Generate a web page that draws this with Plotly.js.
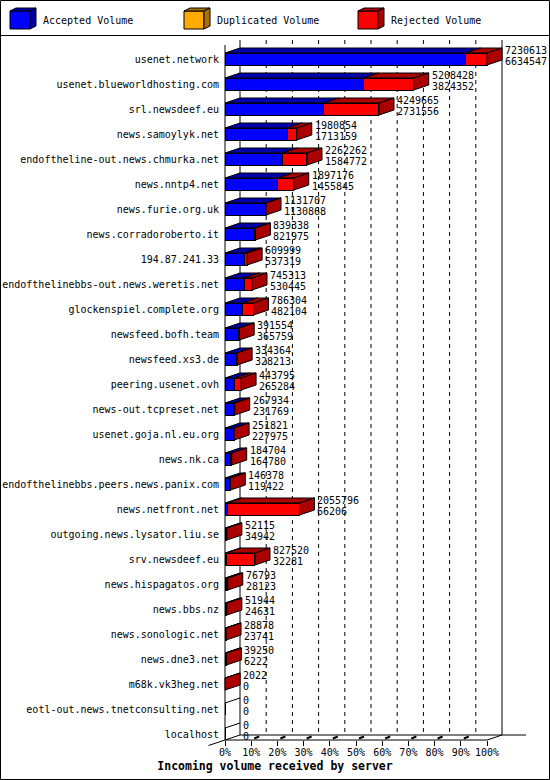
<!DOCTYPE html>
<html>
<head>
<meta charset="utf-8">
<script src="https://cdn.plot.ly/plotly-3.0.1.min.js"></script>
<style>
  html, body { margin: 0; padding: 0; background: #fff; }
  #chart { width: 550px; height: 780px; }
</style>
</head>
<body>
<div id="chart"></div>
<script>
/* global Plotly */

// one row per feeding server, in the order of the report
const servers = [
  'usenet.network',
  'usenet.blueworldhosting.com',
  'srl.newsdeef.eu',
  'news.samoylyk.net',
  'endoftheline-out.news.chmurka.net',
  'news.nntp4.net',
  'news.furie.org.uk',
  'news.corradoroberto.it',
  '194.87.241.33',
  'endofthelinebbs-out.news.weretis.net',
  'glockenspiel.complete.org',
  'newsfeed.bofh.team',
  'newsfeed.xs3.de',
  'peering.usenet.ovh',
  'news-out.tcpreset.net',
  'usenet.goja.nl.eu.org',
  'news.nk.ca',
  'endofthelinebbs.peers.news.panix.com',
  'news.netfront.net',
  'outgoing.news.lysator.liu.se',
  'srv.newsdeef.eu',
  'news.hispagatos.org',
  'news.bbs.nz',
  'news.sonologic.net',
  'news.dne3.net',
  'm68k.vk3heg.net',
  'eotl-out.news.tnetconsulting.net',
  'localhost',
];

// upper number next to each bar
const totalVolume = [
  7230613, 5208428, 4249665, 1980854, 2262262, 1897176, 1131707,
  839338, 609999, 745313, 786304, 391554, 334364, 443795,
  267934, 251821, 184704, 146378, 2055796, 52115, 827520,
  76793, 51944, 28878, 39250, 2022, 0, 0,
];

// lower number next to each bar
const acceptedVolume = [
  6634547, 3824352, 2731556, 1713159, 1584772, 1455845, 1130868,
  821975, 537319, 530445, 482104, 365759, 328213, 265284,
  231769, 227975, 164780, 119422, 66206, 34942, 32281,
  28123, 24631, 23741, 6222, 0, 0, 0,
];

const duplicatedVolume = [
  0, 0, 0, 0, 0, 0, 0,
  0, 0, 0, 0, 0, 0, 0,
  0, 0, 0, 0, 0, 0, 0,
  0, 0, 0, 0, 0, 0, 0,
];

const seriesNames = ['Accepted Volume', 'Duplicated Volume', 'Rejected Volume'];
const seriesColors = ['#0000ff', '#ffaa00', '#ff0000'];
const shadeColors = ['#0000aa', '#aa7100', '#aa0000'];
const xTickValues = [0, 10, 20, 30, 40, 50, 60, 70, 80, 90, 100];
const xTickLabels = ['0%', '10%', '20%', '30%', '40%', '50%', '60%', '70%', '80%', '90%', '100%'];
const xTitle = 'Incoming volume received by server';

const FONT = 'DejaVu Sans Mono, Liberation Mono, monospace';

// page geometry
const WIDTH = 550;
const HEIGHT = 780;
const margin = { l: 220, r: 24, t: 35, b: 40 };
const plotW = WIDTH - margin.l - margin.r;
const plotH = HEIGHT - margin.t - margin.b;
const PX_PER_PCT = 2.62;
const PX_PER_ROW = 25;
const ZERO_PX = 225;
const FIRST_ROW_PX = 59;

const xRange = [-(ZERO_PX - margin.l) / PX_PER_PCT, 0];
xRange[1] = xRange[0] + plotW / PX_PER_PCT;
const yTop = -(FIRST_ROW_PX - margin.t) / PX_PER_ROW;
const yRange = [yTop + plotH / PX_PER_ROW, yTop];

// fake 3d: depth of the bars
const depthX = 15 / PX_PER_PCT;
const depthY = -5 / PX_PER_ROW;
const half = 6 / PX_PER_ROW;
const floorFront = yRange[0];
const floorBack = floorFront + depthY;
const wallTop = yTop + 0.2;

const paperX = (px) => (px - margin.l) / plotW;
const paperY = (py) => (HEIGHT - margin.b - py) / plotH;
const dataPaperX = (x) => (x - xRange[0]) / (xRange[1] - xRange[0]);
const dataPaperY = (y) => (yRange[0] - y) / (yRange[0] - yRange[1]);

const maxTotal = Math.max(...totalVolume);
const pct = (v) => (v / maxTotal) * 100;
const rejectedVolume = totalVolume.map((t, i) => t - acceptedVolume[i] - duplicatedVolume[i]);
const series = [acceptedVolume, duplicatedVolume, rejectedVolume];
const rows = servers.map((s, i) => i);

const traces = series.map((values, s) => ({
  type: 'bar',
  orientation: 'h',
  name: seriesNames[s],
  y: rows,
  x: values.map(pct),
  width: 0.48,
  marker: { color: seriesColors[s], line: { color: '#000', width: 1 } },
  hoverinfo: 'skip',
}));

const shapes = [];
const annotations = [];

// back wall: dashed grid and its edges
xTickValues.forEach((v) => {
  if (v === 0) return;
  shapes.push({
    type: 'line', xref: 'x', yref: 'y', layer: 'below',
    x0: v + depthX, x1: v + depthX, y0: wallTop, y1: floorBack,
    line: { color: '#000', width: 1, dash: v === 100 ? 'solid' : '4px,4px' },
  });
});
shapes.push({
  type: 'line', xref: 'x', yref: 'y', layer: 'below',
  x0: depthX, x1: depthX, y0: wallTop, y1: floorBack,
  line: { color: '#000', width: 1 },
});
shapes.push({
  type: 'line', xref: 'x', yref: 'y', layer: 'below',
  x0: 0, x1: 0, y0: wallTop - depthY, y1: floorFront,
  line: { color: '#000', width: 1 },
});

// floor
shapes.push({
  type: 'line', xref: 'paper', yref: 'paper',
  x0: dataPaperX(depthX), x1: 1, y0: dataPaperY(floorBack), y1: dataPaperY(floorBack),
  line: { color: '#000', width: 1 },
});
shapes.push({
  type: 'line', xref: 'paper', yref: 'paper',
  x0: dataPaperX(0), x1: dataPaperX(100), y0: 0, y1: 0,
  line: { color: '#000', width: 1 },
});
shapes.push({
  type: 'line', xref: 'paper', yref: 'paper',
  x0: dataPaperX(100), x1: dataPaperX(100 + depthX), y0: 0, y1: dataPaperY(floorBack),
  line: { color: '#000', width: 1 },
});
shapes.push({
  type: 'line', xref: 'paper', yref: 'paper',
  x0: dataPaperX(-1.1 * depthX), x1: dataPaperX(depthX),
  y0: dataPaperY(floorFront - 1.1 * depthY), y1: dataPaperY(floorBack),
  line: { color: '#000', width: 1 },
});
xTickValues.forEach((v) => {
  if (v === 0 || v === 100) return;
  const px = ZERO_PX + v * PX_PER_PCT;
  shapes.push({
    type: 'line', xref: 'paper', yref: 'paper',
    x0: paperX(px + 3), x1: paperX(px + 8), y0: paperY(738.5), y1: paperY(736.5),
    line: { color: '#000', width: 2 },
  });
});

// top and side faces of the bars, plus the value labels
const path = (pts) => `M${pts.map((p) => `${p[0]},${p[1]}`).join(' L')} Z`;

rows.forEach((i) => {
  const top = i - half;
  const bottom = i + half;
  let start = 0;
  let lastS = -1;
  series.forEach((values, s) => {
    const w = pct(values[i]);
    if (w > 0) {
      shapes.push({
        type: 'path', xref: 'x', yref: 'y',
        path: path([[start, top], [start + w, top], [start + w + depthX, top + depthY], [start + depthX, top + depthY]]),
        fillcolor: shadeColors[s], line: { color: '#000', width: 1 },
      });
      lastS = s;
    }
    start += w;
  });
  if (lastS >= 0) {
    shapes.push({
      type: 'path', xref: 'x', yref: 'y',
      path: path([[start, top], [start + depthX, top + depthY], [start + depthX, bottom + depthY], [start, bottom]]),
      fillcolor: shadeColors[lastS], line: { color: '#000', width: 1 },
    });
  } else {
    shapes.push({
      type: 'line', xref: 'x', yref: 'y',
      x0: 0, y0: top, x1: depthX, y1: top + depthY,
      line: { color: '#000', width: 1 },
    });
  }
  [[totalVolume[i], -0.33], [acceptedVolume[i], 0.11]].forEach(([val, dy]) => {
    annotations.push({
      xref: 'x', yref: 'y', x: start + depthX, y: i + dy,
      xanchor: 'left', yanchor: 'middle', xshift: 1,
      text: String(val), showarrow: false,
      font: { family: FONT, size: 10, color: '#000' },
    });
  });
});

// legend strip with little cubes
seriesNames.forEach((name, s) => {
  const x0 = 10 + 174 * s;
  const cube = (pts) => path(pts.map(([x, y]) => [paperX(x), paperY(y)]));
  shapes.push({
    type: 'path', xref: 'paper', yref: 'paper',
    path: cube([[x0, 11], [x0 + 20, 11], [x0 + 20, 29], [x0, 29]]),
    fillcolor: seriesColors[s], line: { color: '#000', width: 1 },
  });
  shapes.push({
    type: 'path', xref: 'paper', yref: 'paper',
    path: cube([[x0, 11], [x0 + 6, 8], [x0 + 26, 8], [x0 + 20, 11]]),
    fillcolor: shadeColors[s], line: { color: '#000', width: 1 },
  });
  shapes.push({
    type: 'path', xref: 'paper', yref: 'paper',
    path: cube([[x0 + 20, 11], [x0 + 26, 8], [x0 + 26, 26], [x0 + 20, 29]]),
    fillcolor: shadeColors[s], line: { color: '#000', width: 1 },
  });
  annotations.push({
    xref: 'paper', yref: 'paper', x: paperX(x0 + 31), y: paperY(20),
    xanchor: 'left', yanchor: 'middle', showarrow: false,
    text: name, font: { family: FONT, size: 10, color: '#000' },
  });
});

// outer frame and legend separator
shapes.push({
  type: 'rect', xref: 'paper', yref: 'paper',
  x0: paperX(0.5), x1: paperX(549.5), y0: paperY(0.5), y1: paperY(779.5),
  line: { color: '#000', width: 1 },
});
shapes.push({
  type: 'line', xref: 'paper', yref: 'paper',
  x0: paperX(0), x1: paperX(550), y0: paperY(35.5), y1: paperY(35.5),
  line: { color: '#000', width: 1 },
});

const layout = {
  width: WIDTH,
  height: HEIGHT,
  margin,
  paper_bgcolor: '#fff',
  plot_bgcolor: '#fff',
  barmode: 'stack',
  showlegend: false,
  font: { family: FONT, size: 10, color: '#000' },
  title: {
    text: xTitle,
    font: { family: FONT, size: 11.5, weight: 'bold', color: '#000' },
    xref: 'container', x: 0.5,
    yref: 'container', y: (HEIGHT - 766) / HEIGHT, yanchor: 'middle',
  },
  xaxis: {
    range: xRange,
    tickmode: 'array',
    tickvals: xTickValues,
    ticktext: xTickLabels,
    ticks: 'outside',
    ticklen: 5,
    tickcolor: '#000',
    ticklabelstandoff: -2,
    showgrid: false,
    zeroline: false,
    showline: false,
    tickfont: { family: FONT, size: 10, color: '#000' },
    fixedrange: true,
  },
  yaxis: {
    range: yRange,
    tickvals: rows,
    ticktext: servers,
    ticks: '',
    showgrid: false,
    zeroline: false,
    showline: false,
    tickfont: { family: FONT, size: 10, color: '#000' },
    fixedrange: true,
  },
  shapes,
  annotations,
};

Plotly.newPlot('chart', traces, layout, { staticPlot: true, displayModeBar: false });
</script>
</body>
</html>
